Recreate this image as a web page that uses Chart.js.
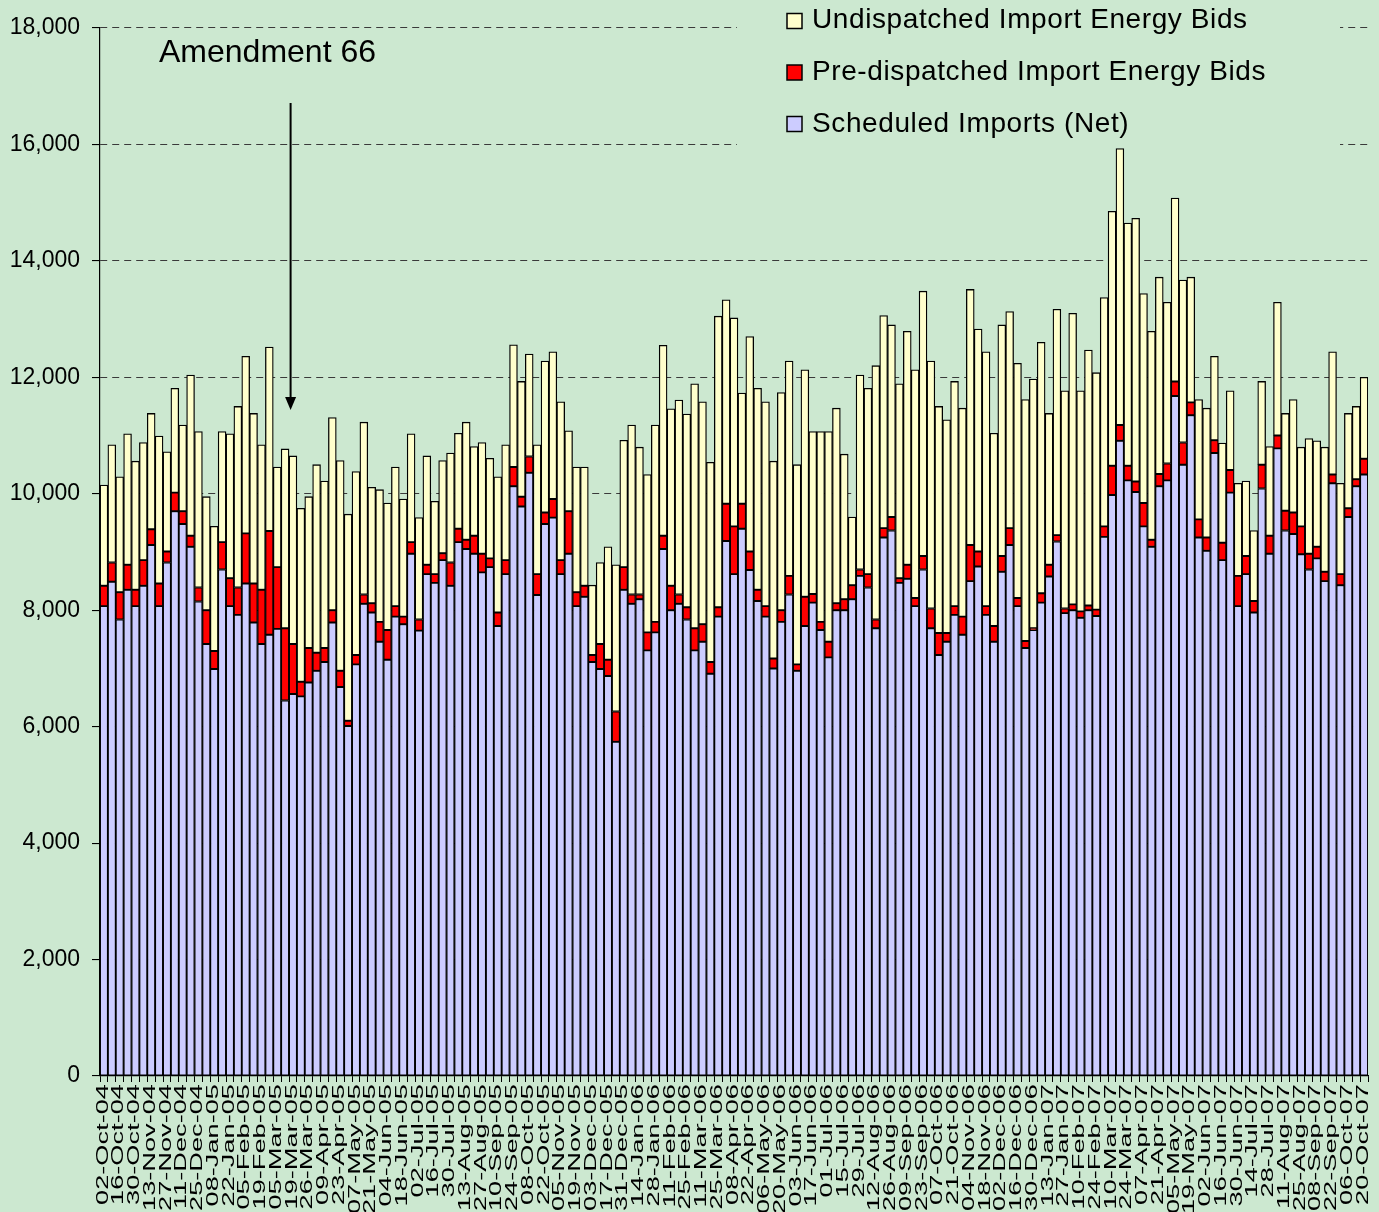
<!DOCTYPE html>
<html><head><meta charset="utf-8">
<script src="https://cdn.jsdelivr.net/npm/chart.js@4.4.1/dist/chart.umd.min.js"></script>
<style>
html,body{margin:0;padding:0;background:#cce8d0;}
#wrap{width:1379px;height:1212px;position:relative;}
</style></head><body>
<div id="wrap"><canvas id="c" width="1379" height="1212"></canvas></div>
<script>
// Tick labels shown on every second weekly category
const tickLabels = [
'02-Oct-04','16-Oct-04','30-Oct-04','13-Nov-04','27-Nov-04','11-Dec-04','25-Dec-04','08-Jan-05','22-Jan-05','05-Feb-05','19-Feb-05','05-Mar-05','19-Mar-05',
'26-Mar-05','09-Apr-05','23-Apr-05','07-May-05','21-May-05','04-Jun-05','18-Jun-05','02-Jul-05','16-Jul-05','30-Jul-05','13-Aug-05','27-Aug-05','10-Sep-05','24-Sep-05',
'08-Oct-05','22-Oct-05','05-Nov-05','19-Nov-05','03-Dec-05','17-Dec-05','31-Dec-05','14-Jan-06','28-Jan-06','11-Feb-06','25-Feb-06','11-Mar-06','25-Mar-06',
'08-Apr-06','22-Apr-06','06-May-06','20-May-06','03-Jun-06','17-Jun-06','01-Jul-06','15-Jul-06','29-Jul-06','12-Aug-06','26-Aug-06','09-Sep-06','23-Sep-06',
'07-Oct-06','21-Oct-06','04-Nov-06','18-Nov-06','02-Dec-06','16-Dec-06','30-Dec-06','13-Jan-07','27-Jan-07','10-Feb-07','24-Feb-07','10-Mar-07','24-Mar-07',
'07-Apr-07','21-Apr-07','05-May-07','19-May-07','02-Jun-07','16-Jun-07','30-Jun-07','14-Jul-07','28-Jul-07','11-Aug-07','25-Aug-07','08-Sep-07','22-Sep-07',
'06-Oct-07','20-Oct-07'
];

const scheduledImports = [
8070,8490,7840,8350,8070,8420,9120,8070,8820,9700,9480,9090,8150,7420,6990,8700,8070,7920,8460,7790,
7420,7580,7680,6450,6560,6520,6760,6960,7110,7790,6680,6010,7070,8110,7960,7460,7150,7890,7760,8970,
7650,8620,8470,8860,8420,9170,9050,8970,8650,8740,7730,8620,10130,9780,10360,8260,9480,9590,8620,8970,
8070,8230,7110,6990,6870,5740,8350,8110,8190,7310,7620,9050,8000,8110,7840,7310,7460,6910,7890,9190,
8620,9400,8690,8160,7890,7000,7800,8270,6960,7730,8130,7660,7190,8000,8000,8190,8590,8390,7690,9250,
9370,8470,8540,8070,8700,7690,7230,7460,7920,7580,8500,8750,7920,7460,8660,9120,8070,7350,7660,8130,
8580,9180,7950,8000,7870,8000,7900,9260,9980,10910,10230,10030,9440,9090,10130,10230,11680,10500,11350,9250,
9020,10700,8860,10020,8070,8620,7960,10090,8970,10780,9370,9310,8960,8700,8890,8500,10180,8430,9600,10130,
10330
];

const predispatchedBids = [
350,330,470,430,280,440,270,390,190,320,220,190,240,580,310,470,480,470,860,670,
930,1780,1060,1240,860,250,590,310,240,210,280,90,160,160,160,340,510,180,130,200,
190,160,150,120,400,230,160,310,320,150,230,240,330,170,280,360,200,320,240,730,
240,190,120,430,280,520,390,160,80,310,180,230,420,160,210,380,300,200,160,640,
820,430,320,190,180,170,200,320,110,500,150,140,270,120,190,240,110,230,150,160,
230,80,240,140,230,340,380,150,150,310,620,260,150,270,270,290,140,120,30,160,
200,110,80,100,110,80,110,180,500,270,250,180,400,120,210,290,250,380,220,310,
230,220,300,390,520,310,200,410,310,220,340,370,480,270,200,160,150,190,150,120,
270
];

const undispatchedBids = [
1730,2020,1980,2250,2210,2020,1990,2530,1710,1790,1480,2760,2680,1950,2140,1900,2480,3110,3040,2920,
2490,3160,1720,3080,3230,2980,2600,3230,2870,3310,3610,3550,3150,2960,1990,2270,2180,2390,2020,1860,
1750,1870,1250,1590,1880,1640,2020,1530,1910,1720,2330,1980,2100,1980,1760,2220,2600,2530,2720,1380,
2150,2040,1200,1400,1940,2520,2180,2910,2530,2710,3380,3270,3040,3340,3320,4200,3820,3430,5000,3500,
3580,1900,3690,3460,3510,3390,3740,3690,3430,3900,2790,3270,3610,3350,2490,1170,3340,3190,4360,3650,
3300,3340,4010,3920,4550,4250,3890,3660,3860,3580,4390,3820,4370,3310,3970,3720,4030,4150,4280,4310,
2600,3880,3740,5000,3790,4390,4070,3930,4370,4750,4170,4520,3600,3580,3380,2770,3150,2790,2150,2060,
2220,1440,1710,1360,1590,1290,1210,1430,1530,2290,1670,1940,1360,1980,1820,2140,2110,1560,1630,1250,
1400
];

const yTicks = [0,2000,4000,6000,8000,10000,12000,14000,16000,18000];

const BG = '#cce8d0';
const categories = scheduledImports.map((_, i) => (i % 2 === 0 ? tickLabels[i / 2] : ''));

const mk = (label, data, color) => ({
  label, data, backgroundColor: color, borderColor: '#000', borderWidth: 1.3,
  borderSkipped: false, barPercentage: 1, categoryPercentage: 1
});

const overlay = {
  id: 'overlay',
  beforeDatasetsDraw(chart) {
    const ctx = chart.ctx;
    ctx.save();
    ctx.fillStyle = BG;
    ctx.fillRect(737, 0, 603, 146);
    ctx.font = '28px "Liberation Sans", Arial, sans-serif';
    if ('letterSpacing' in ctx) ctx.letterSpacing = '0.6px';
    ctx.textAlign = 'left';
    ctx.textBaseline = 'alphabetic';
    [2, 1, 0].forEach((di, r) => {
      const d = chart.data.datasets[di];
      const cy = 21 + r * 51.5;
      ctx.fillStyle = d.backgroundColor;
      ctx.fillRect(787, cy - 7.5, 15, 15);
      ctx.strokeStyle = '#000';
      ctx.lineWidth = 1.5;
      ctx.strokeRect(787, cy - 7.5, 15, 15);
      ctx.fillStyle = '#000';
      ctx.fillText(d.label, 812, 28 + r * 52);
    });
    ctx.restore();
  },
  afterDraw(chart) {
    const ctx = chart.ctx;
    const xs = chart.scales.x;
    ctx.save();
    // x tick labels, rotated and stretched along the text direction
    ctx.fillStyle = '#000';
    ctx.font = '17px "Liberation Sans", Arial, sans-serif';
    ctx.textAlign = 'right';
    ctx.textBaseline = 'middle';
    for (let k = 0; k < tickLabels.length; k++) {
      const x = xs.getPixelForValue(k * 2) - 1;
      ctx.save();
      ctx.translate(x, 1084);
      ctx.rotate(-Math.PI / 2);
      ctx.scale(1.6, 1);
      ctx.fillText(tickLabels[k], 0, 0);
      ctx.restore();
    }
    // annotation
    ctx.font = '32px "Liberation Sans", Arial, sans-serif';
    ctx.textAlign = 'left';
    ctx.textBaseline = 'alphabetic';
    ctx.fillText('Amendment 66', 159, 62);
    const ax = xs.getPixelForValue(23.7);
    ctx.strokeStyle = '#000';
    ctx.lineWidth = 2;
    ctx.beginPath();
    ctx.moveTo(ax, 103);
    ctx.lineTo(ax, 400);
    ctx.stroke();
    ctx.beginPath();
    ctx.moveTo(ax - 5.5, 397);
    ctx.lineTo(ax + 5.5, 397);
    ctx.lineTo(ax, 410);
    ctx.closePath();
    ctx.fill();
    ctx.restore();
  }
};

new Chart(document.getElementById('c'), {
  type: 'bar',
  data: {
    labels: categories,
    datasets: [
      mk('Scheduled Imports (Net)', scheduledImports, '#ccccff'),
      mk('Pre-dispatched Import Energy Bids', predispatchedBids, '#ff0000'),
      mk('Undispatched Import Energy Bids', undispatchedBids, '#ffffcc')
    ]
  },
  options: {
    responsive: false,
    animation: false,
    devicePixelRatio: 1,
    events: [],
    layout: { padding: { top: 28, right: 11, left: 0, bottom: 0 } },
    plugins: { legend: { display: false }, tooltip: { enabled: false } },
    scales: {
      x: {
        stacked: true,
        offset: true,
        ticks: { display: false, autoSkip: false },
        grid: { display: true, offset: true, drawOnChartArea: false, drawTicks: true, tickLength: 6, color: '#000', tickColor: '#000', lineWidth: 1 },
        border: { display: true, color: '#000', width: 1.2 },
        afterFit(s) { s.height = 136; }
      },
      y: {
        stacked: true,
        min: 0, max: 18000,
        afterBuildTicks(s) { s.ticks = yTicks.map(v => ({ value: v })); },
        ticks: {
          color: '#000', padding: 12,
          font: { family: '"Liberation Sans", Arial, sans-serif', size: 23 },
          callback: v => v.toLocaleString('en-US')
        },
        grid: { color: '#3a3a3a', lineWidth: 1.1, tickColor: '#000', tickLength: 8, drawTicks: true },
        border: { display: true, color: '#000', width: 1.2, dash: [7, 5] },
        afterFit(s) { s.width = 100; }
      }
    }
  },
  plugins: [overlay]
});
</script>
</body></html>
